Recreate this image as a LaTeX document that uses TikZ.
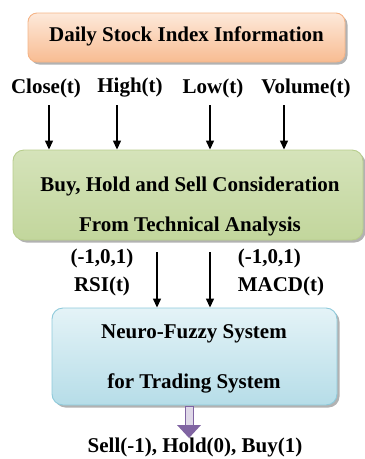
\documentclass[tikz,border=0pt]{standalone}
\usepackage{fontspec}
\setmainfont{Liberation Serif}[BoldFont={Liberation Serif Bold}]
\usepackage{tikz}
\usetikzlibrary{
  calc,      % Coordinate math
  shadows    % Drop shadows under the boxes
}
\usetikzlibrary{arrows.meta}

\definecolor{orangetop}{HTML}{FDE9DA}
\definecolor{orangebot}{HTML}{F8BC92}
\definecolor{orangeline}{HTML}{F5B487}
\definecolor{greentop}{HTML}{D5E3BA}
\definecolor{greenmid}{HTML}{E8EFD8}
\definecolor{greenbot}{HTML}{C2D69C}
\definecolor{greenline}{HTML}{B7CD8C}
\definecolor{bluetop}{HTML}{E4F3F7}
\definecolor{bluebot}{HTML}{B6DDE8}
\definecolor{blueline}{HTML}{8ECADB}
\definecolor{purp}{HTML}{8064A2}

\tikzset{
  panel/.style={draw, rounded corners=11pt, line width=0.9pt, shading=axis,
    drop shadow={shadow xshift=2.5pt, shadow yshift=-2.5pt, opacity=0.3, fill=black}},
  lbl/.style={font=\bfseries\fontsize{21}{28}\selectfont, inner sep=0pt},
  feed/.style={-{Triangle[length=9pt,width=8pt]}, line width=1.3pt}
}

\begin{document}
\begin{tikzpicture}[x=1pt, y=-1pt]
  \useasboundingbox (0,0) rectangle (365,459);

  % Top box
  \node[panel, draw=orangeline, top color=orangetop, bottom color=orangebot,
        minimum width=317pt, minimum height=49pt, rounded corners=9pt] (info) at (186.5,37.5) {};
  \node[lbl] (infot) at (186.5,36.5) {Daily Stock Index Information};

  % Input labels
  \node[lbl] (close) at (46,88) {Close(t)};
  \node[lbl] (high) at (130,88) {High(t)};
  \node[lbl] (low) at (213,88) {Low(t)};
  \node[lbl] (vol) at (306,88) {Volume(t)};

  % Middle box
  \node[panel, draw=greenline, top color=greentop, middle color=greenmid, bottom color=greenbot,
        minimum width=350pt, minimum height=90pt] (consider) at (188,195) {};
  \node[lbl] (cons1) at (190,186) {Buy, Hold and Sell Consideration};
  \node[lbl] (cons2) at (190,226) {From Technical Analysis};

  % Input arrows
  \coordinate (c1) at (49,105);
  \coordinate (c2) at (117,105);
  \coordinate (c3) at (210,105);
  \coordinate (c4) at (284,105);
  \foreach \c in {c1,c2,c3,c4}
    \draw[feed] (\c) -- (\c |- consider.north);

  % Indicator labels
  \node[lbl, align=center] (rsi) at (102,272) {(-1,0,1)\\RSI(t)};
  \node[lbl, align=left] (macd) at (281,272) {(-1,0,1)\\MACD(t)};

  % Bottom box
  \node[panel, draw=blueline, top color=bluetop, bottom color=bluebot,
        minimum width=285pt, minimum height=97pt] (neuro) at (194.5,356.5) {};
  \node[lbl] (neuro1) at (194,334) {Neuro-Fuzzy System};
  \node[lbl] (neuro2) at (194,383) {for Trading System};

  % Indicator arrows
  \coordinate (r1) at (157,252);
  \coordinate (r2) at (210,252);
  \draw[feed] (r1) -- (r1 |- neuro.north);
  \draw[feed] (r2) -- (r2 |- neuro.north);

  % Output
  \node[lbl] (out) at (195,447) {Sell(-1), Hold(0), Buy(1)};
  \coordinate (dn) at (189,406);
  \draw[draw=purp, fill=purp!25, line width=1pt] ($(dn)+(-4,0)$) rectangle ($(dn)+(4,19)$);
  \fill[purp] ($(dn)+(-12,19)$) -- ($(dn)+(12,19)$) -- ($(dn)+(0,32)$) -- cycle;
\end{tikzpicture}
\end{document}
